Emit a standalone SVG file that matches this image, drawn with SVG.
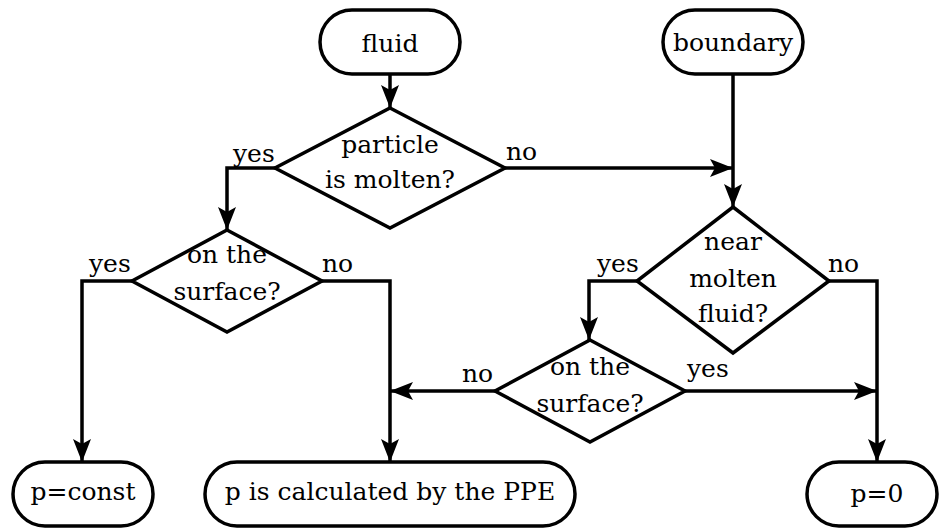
<svg xmlns="http://www.w3.org/2000/svg" width="939" height="529" viewBox="0 0 939 529" font-family="DejaVu Serif, Liberation Serif, serif" font-size="25">
<style>
.n{fill:#fff;stroke:#000;stroke-width:3.5}
.c{fill:none;stroke:#000;stroke-width:3.5}
.m{text-anchor:middle}
</style>
<defs>
<marker id="ah" viewBox="-24 -10 26 20" refX="0" refY="0" markerWidth="26" markerHeight="20" markerUnits="userSpaceOnUse" orient="auto">
<path d="M0,0 L-23,-9 L-18,0 L-23,9 Z" fill="#000"/>
</marker>
</defs>
<g id="connectors">
<path class="c" d="M390,74 V108" marker-end="url(#ah)"/>
<path class="c" d="M505,168 H733" marker-end="url(#ah)"/>
<path class="c" d="M733,74 V207" marker-end="url(#ah)"/>
<path class="c" d="M275,168 H227 V230" marker-end="url(#ah)"/>
<path class="c" d="M132,281 H82 V462" marker-end="url(#ah)"/>
<path class="c" d="M322,281 H390 V462" marker-end="url(#ah)"/>
<path class="c" d="M637,281 H589 V340" marker-end="url(#ah)"/>
<path class="c" d="M829,281 H877 V462" marker-end="url(#ah)"/>
<path class="c" d="M495,391 H390" marker-end="url(#ah)"/>
<path class="c" d="M685,391 H877" marker-end="url(#ah)"/>
<text x="233" y="162">yes</text>
<text x="506" y="160">no</text>
<text x="89" y="272">yes</text>
<text x="322" y="272">no</text>
<text x="597" y="272">yes</text>
<text x="828" y="272">no</text>
<text x="462" y="382">no</text>
<text x="687" y="377">yes</text>
</g>
<g id="fluid">
<rect class="n" x="320" y="10" width="140" height="64" rx="32"/>
<text class="m" x="390" y="52">fluid</text>
</g>
<g id="boundary">
<rect class="n" x="663" y="10" width="140" height="64" rx="32"/>
<text class="m" x="733" y="51">boundary</text>
</g>
<g id="molten">
<polygon class="n" points="390,108 505,168 390,228 275,168"/>
<text class="m" x="390" y="153">particle</text>
<text class="m" x="390" y="188">is molten?</text>
</g>
<g id="surface1">
<polygon class="n" points="227,230 322,281 227,332 132,281"/>
<text class="m" x="227" y="263">on the</text>
<text class="m" x="227" y="300">surface?</text>
</g>
<g id="near">
<polygon class="n" points="733,207 829,281 733,353 637,281"/>
<text class="m" x="733" y="250">near</text>
<text class="m" x="733" y="287">molten</text>
<text class="m" x="733" y="322">fluid?</text>
</g>
<g id="surface2">
<polygon class="n" points="590,340 685,391 590,442 495,391"/>
<text class="m" x="590" y="375">on the</text>
<text class="m" x="590" y="412">surface?</text>
</g>
<g id="pconst">
<rect class="n" x="13" y="462" width="140" height="64" rx="32"/>
<text class="m" x="83" y="500">p=const</text>
</g>
<g id="ppe">
<rect class="n" x="205" y="462" width="370" height="64" rx="32"/>
<text class="m" x="390" y="500">p is calculated by the PPE</text>
</g>
<g id="p0">
<rect class="n" x="807" y="462" width="130" height="64" rx="32"/>
<text class="m" x="877" y="502">p=0</text>
</g>
</svg>
